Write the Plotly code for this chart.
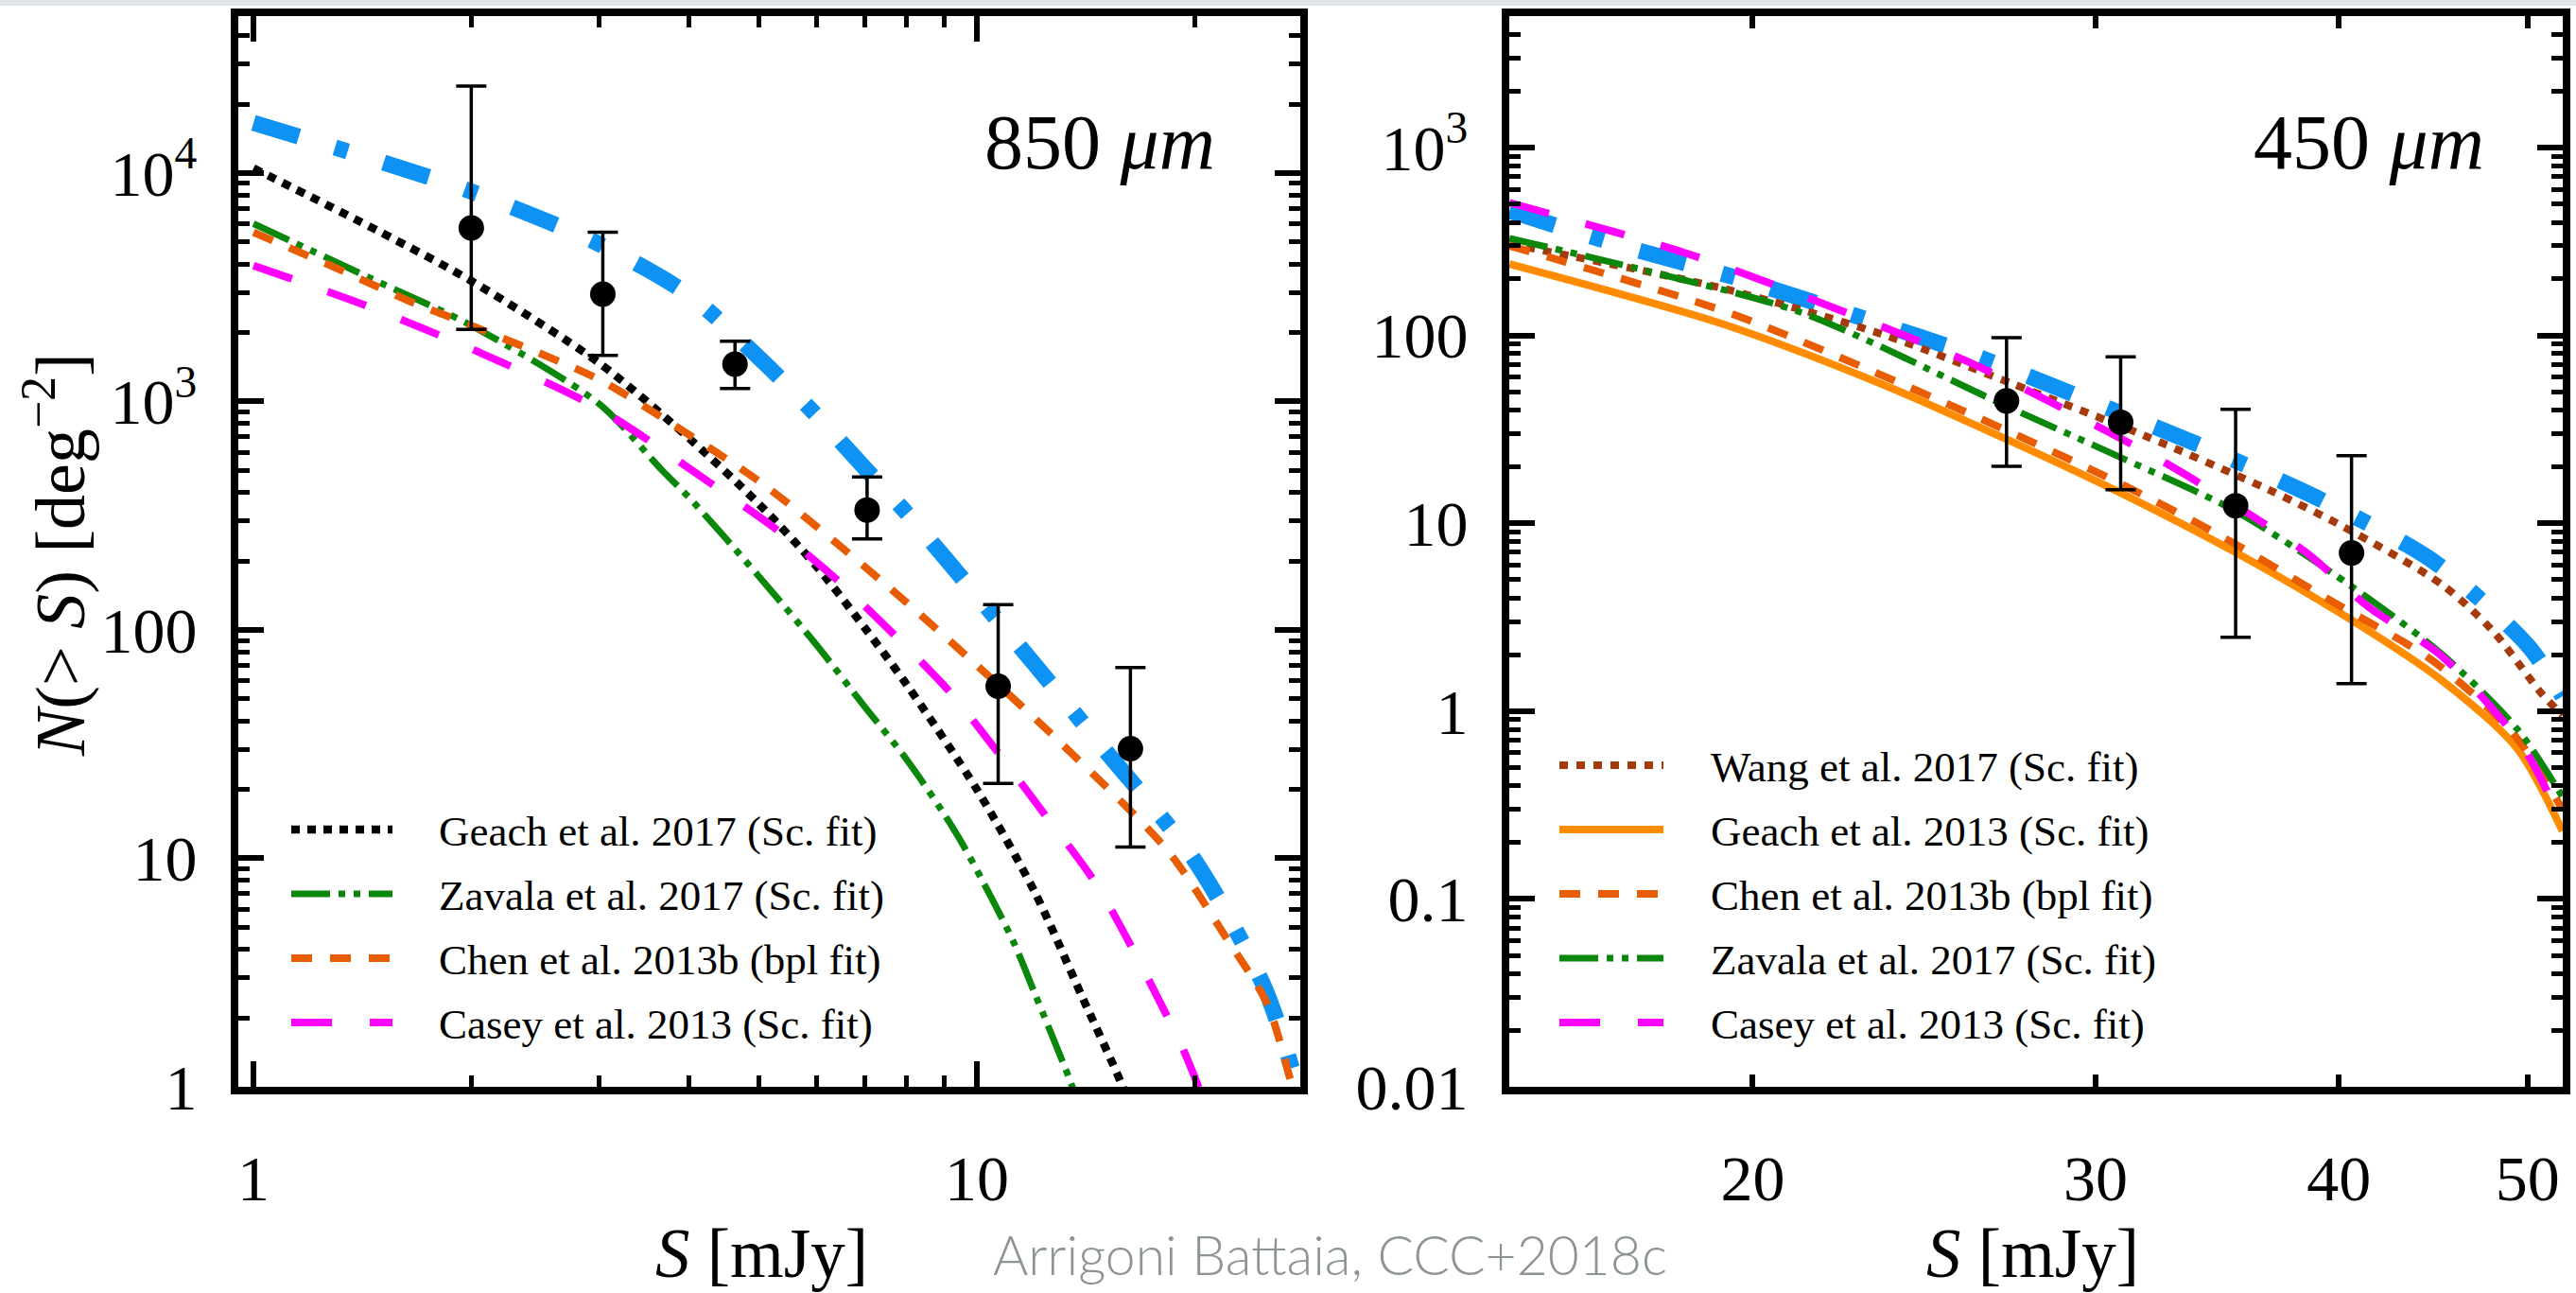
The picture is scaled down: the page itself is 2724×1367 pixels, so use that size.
import plotly.graph_objects as go

W, H = 2724, 1367

# ---------------- 850 micron panel ----------------
s850_obs = [2.0, 3.04, 4.63, 7.05, 10.7, 16.3]
n850_obs = [5750, 2950, 1456, 335, 56.7, 30.2]
n850_hi = [24000, 5510, 1837, 467, 129, 68.4]
n850_lo = [2070, 1590, 1140, 250, 21.3, 11.2]

s850_model = [1, 1.5, 2, 3, 4, 5, 6, 7, 8, 10, 12, 15, 20, 25, 28]
n850_model = [16600, 11200, 8300, 4900, 2920, 1550, 870, 510, 324, 141, 71, 30, 9.8, 2.7, 0.9]

s850_geach17 = [1, 1.5, 2, 3, 4, 5, 6, 7, 8, 10, 12, 14, 15.8, 16.3]
n850_geach17 = [10500, 5500, 3370, 1480, 690, 355, 190, 102, 57.5, 20, 7.2, 2.45, 1.05, 0.8]

s850_zavala = [1, 1.5, 2, 3, 3.67, 4, 5, 6, 7, 8, 9.4, 11.2, 12, 13.4, 13.8]
n850_zavala = [6000, 3300, 2150, 980, 500, 380, 171, 86, 46, 27, 12.6, 4.4, 2.6, 1.1, 0.85]

s850_chen = [1, 1.33, 1.66, 2, 3, 3.67, 5.07, 7.48, 9.9, 13.2, 18.4, 22, 25.2, 27.3, 28]
n850_chen = [5500, 3720, 2710, 2150, 1250, 850, 433, 158, 72, 31, 10.7, 4.6, 2.3, 1.0, 0.8]

s850_casey = [1, 1.13, 1.43, 2, 3, 4.31, 5.27, 6.4, 7.69, 9.15, 10.7, 12.4, 14.7, 19.2, 20.5]
n850_casey = [3930, 3440, 2630, 1700, 930, 433, 277, 166, 95, 54, 29, 15.6, 7.5, 1.5, 0.9]

# ---------------- 450 micron panel ----------------
s450_obs = [27.0, 30.9, 35.4, 40.6]
n450_obs = [44.8, 34.5, 12.4, 6.95]
n450_hi = [97.3, 77, 40.4, 22.9]
n450_lo = [20.1, 15.1, 2.47, 1.4]

s450_model = [15, 17.1, 19.7, 22.7, 26.1, 30, 34.4, 39.3, 44.8, 50, 52.1]
n450_model = [460, 302, 200, 125, 77, 43.6, 24.5, 13.1, 6.2, 2.24, 1.2]

s450_wang = [15, 19.3, 23.4, 27.1, 31.8, 36.8, 40.2, 45.2, 48, 50.8, 52.1]
n450_wang = [307, 178, 100, 56, 29.2, 15.1, 9.6, 4.7, 2.66, 1.25, 0.95]

s450_geach13 = [15, 19.3, 23.4, 27, 30.9, 35.4, 40.5, 45.2, 49.4, 52.1]
n450_geach13 = [240, 115, 54, 28, 14.5, 7.0, 3.1, 1.45, 0.63, 0.23]

s450_chen = [15, 15.7, 19.6, 25.2, 30.8, 34.9, 39.4, 44.7, 49.2, 52.1]
n450_chen = [300, 262, 128, 43, 16.5, 8.4, 4.0, 1.85, 0.75, 0.30]

s450_zavala = [15, 17.6, 21.2, 27, 30.9, 35.4, 40.5, 45.2, 49.4, 52.1]
n450_zavala = [329, 222, 132, 42, 22.4, 11.6, 4.7, 2.0, 0.8, 0.35]

s450_casey = [15, 18.5, 21.2, 25.6, 27.8, 32.7, 38.4, 41.4, 45.2, 49.7, 52.1]
n450_casey = [509, 273, 163, 75, 49.8, 20.5, 7.1, 3.6, 1.95, 0.65, 0.25]

# ---------------- styles ----------------
BLUE = "#0e93f5"
BLACK = "#000000"
GREEN = "#0b870b"
ORANGE_D = "#e85d04"
MAGENTA = "#ff00ff"
ORANGE = "#ff8c00"
BROWN = "#a53a0c"

STYLE = {
    "model": dict(color=BLUE, width=17, dash="50px,40px,14px,40px"),
    "geach17": dict(color=BLACK, width=8.5, dash="9px,8px"),
    "zavala": dict(color=GREEN, width=7, dash="41px,9px,7px,9px,7px,9px"),
    "chen": dict(color=ORANGE_D, width=8, dash="22px,19px"),
    "casey": dict(color=MAGENTA, width=8, dash="43px,40px"),
    "geach13": dict(color=ORANGE, width=8, dash="solid"),
    "wang": dict(color=BROWN, width=8, dash="9px,9px"),
}

SERIF = "Liberation Serif"

fig = go.Figure()


def add_curve(x, y, key, xa, ya, name):
    st = STYLE[key]
    fig.add_trace(go.Scatter(
        x=x, y=y, mode="lines", name=name, showlegend=False, hoverinfo="skip",
        line=dict(color=st["color"], width=st["width"], dash=st["dash"],
                  shape="spline", smoothing=0.8),
        xaxis=xa, yaxis=ya))


def add_points(x, y, hi, lo, xa, ya):
    fig.add_trace(go.Scatter(
        x=x, y=y, mode="markers", showlegend=False, hoverinfo="skip",
        marker=dict(size=27, color="black"),
        error_y=dict(type="data", symmetric=False,
                     array=[h - v for h, v in zip(hi, y)],
                     arrayminus=[v - l for v, l in zip(y, lo)],
                     color="black", thickness=3.5, width=16),
        xaxis=xa, yaxis=ya))


# left panel
add_curve(s850_model, n850_model, "model", "x", "y", "model")
add_curve(s850_geach17, n850_geach17, "geach17", "x", "y", "Geach et al. 2017 (Sc. fit)")
add_curve(s850_zavala, n850_zavala, "zavala", "x", "y", "Zavala et al. 2017 (Sc. fit)")
add_curve(s850_chen, n850_chen, "chen", "x", "y", "Chen et al. 2013b (bpl fit)")
add_curve(s850_casey, n850_casey, "casey", "x", "y", "Casey et al. 2013 (Sc. fit)")
add_points(s850_obs, n850_obs, n850_hi, n850_lo, "x", "y")

# right panel
add_curve(s450_model, n450_model, "model", "x2", "y2", "model")
add_curve(s450_wang, n450_wang, "wang", "x2", "y2", "Wang et al. 2017 (Sc. fit)")
add_curve(s450_geach13, n450_geach13, "geach13", "x2", "y2", "Geach et al. 2013 (Sc. fit)")
add_curve(s450_chen, n450_chen, "chen", "x2", "y2", "Chen et al. 2013b (bpl fit)")
add_curve(s450_zavala, n450_zavala, "zavala", "x2", "y2", "Zavala et al. 2017 (Sc. fit)")
add_curve(s450_casey, n450_casey, "casey", "x2", "y2", "Casey et al. 2013 (Sc. fit)")
add_points(s450_obs, n450_obs, n450_hi, n450_lo, "x2", "y2")


def px(x):
    return x / W


def py(y):
    return 1 - y / H


FRAME = dict(showline=True, linecolor="black", linewidth=8, mirror="ticks",
             showgrid=False, zeroline=False, ticks="inside", tickcolor="black",
             automargin=False,
             tickfont=dict(family=SERIF, size=68, color="black"))

decade_minor = [m * 10 ** k for k in range(-3, 5) for m in range(2, 10)]

y_dom = [py(1149), py(17)]

fig.update_layout(
    width=W, height=H, margin=dict(l=0, r=0, t=0, b=0, autoexpand=False),
    paper_bgcolor="white", plot_bgcolor="white",
    xaxis=dict(FRAME, type="log", domain=[px(252), px(1375)], range=[-0.021, 1.447],
               anchor="y", tickvals=[1, 10], ticktext=["1", "10"],
               ticklen=27, tickwidth=6, ticklabelstandoff=30,
               minor=dict(tickvals=[2, 3, 4, 5, 6, 7, 8, 9, 20], ticks="inside",
                          ticklen=12, tickwidth=5, tickcolor="black")),
    yaxis=dict(FRAME, type="log", domain=y_dom, range=[0, 4.687], anchor="x",
               tickvals=[1, 10, 100, 1000, 10000],
               ticktext=["1", "10", "100", "10<sup>3</sup>", "10<sup>4</sup>"],
               ticklen=27, tickwidth=6, ticklabelstandoff=22,
               minor=dict(tickvals=decade_minor, ticks="inside",
                          ticklen=12, tickwidth=5, tickcolor="black")),
    xaxis2=dict(FRAME, type="log", domain=[px(1596), px(2710)], range=[1.176, 1.717],
                anchor="y2", tickvals=[20, 30, 40, 50], ticktext=["20", "30", "40", "50"],
                ticklen=13, tickwidth=6, ticklabelstandoff=30),
    yaxis2=dict(FRAME, type="log", domain=y_dom, range=[-2, 3.70], anchor="x2",
                tickvals=[0.01, 0.1, 1, 10, 100, 1000],
                ticktext=["0.01", "0.1", "1", "10", "100", "10<sup>3</sup>"],
                ticklen=27, tickwidth=6, ticklabelstandoff=22,
                minor=dict(tickvals=decade_minor, ticks="inside",
                           ticklen=12, tickwidth=5, tickcolor="black")),
)

shapes = [dict(type="rect", xref="paper", yref="paper", x0=0, x1=1,
               y0=py(6), y1=1, fillcolor="#dfe3e8", line=dict(width=0), layer="below")]
annotations = []

# legend keys drawn beside each panel
legend_left = [("geach17", "Geach et al. 2017 (Sc. fit)"),
               ("zavala", "Zavala et al. 2017 (Sc. fit)"),
               ("chen", "Chen et al. 2013b (bpl fit)"),
               ("casey", "Casey et al. 2013 (Sc. fit)")]
legend_right = [("wang", "Wang et al. 2017 (Sc. fit)"),
                ("geach13", "Geach et al. 2013 (Sc. fit)"),
                ("chen", "Chen et al. 2013b (bpl fit)"),
                ("zavala", "Zavala et al. 2017 (Sc. fit)"),
                ("casey", "Casey et al. 2013 (Sc. fit)")]


def add_legend(entries, x0, x1, xt, y_first):
    for i, (key, label) in enumerate(entries):
        yy = y_first + 68 * i
        st = STYLE[key]
        shapes.append(dict(type="line", xref="paper", yref="paper",
                           x0=px(x0), x1=px(x1), y0=py(yy), y1=py(yy),
                           line=dict(color=st["color"], width=st["width"], dash=st["dash"])))
        annotations.append(dict(xref="paper", yref="paper", x=px(xt), y=py(yy + 2),
                                xanchor="left", yanchor="middle", showarrow=False,
                                text=label, font=dict(family=SERIF, size=45, color="black")))


add_legend(legend_left, 308, 415, 462, 877)
add_legend(legend_right, 1649, 1759, 1807, 809)

# panel labels, axis titles, credit line
annotations += [
    dict(xref="paper", yref="paper", x=px(1163), y=py(150), text="850 <i>μm</i>",
         showarrow=False, xanchor="center", yanchor="middle",
         font=dict(family=SERIF, size=82, color="black")),
    dict(xref="paper", yref="paper", x=px(2505), y=py(150), text="450 <i>μm</i>",
         showarrow=False, xanchor="center", yanchor="middle",
         font=dict(family=SERIF, size=82, color="black")),
    dict(xref="paper", yref="paper", x=px(805), y=py(1325), text="<i>S</i> [mJy]",
         showarrow=False, xanchor="center", yanchor="middle",
         font=dict(family=SERIF, size=73, color="black")),
    dict(xref="paper", yref="paper", x=px(2149), y=py(1325), text="<i>S</i> [mJy]",
         showarrow=False, xanchor="center", yanchor="middle",
         font=dict(family=SERIF, size=73, color="black")),
    dict(xref="paper", yref="paper", x=px(58), y=py(587),
         text="<i>N</i>(&gt; <i>S</i>) [deg<sup>−2</sup>]", textangle=-90,
         showarrow=False, xanchor="center", yanchor="middle",
         font=dict(family=SERIF, size=74, color="black")),
    dict(xref="paper", yref="paper", x=px(1406), y=py(1326),
         text="Arrigoni Battaia, CCC+2018c",
         showarrow=False, xanchor="center", yanchor="middle",
         font=dict(family="Lato", size=57, color="#8c9593", weight=300)),
]

fig.update_layout(shapes=shapes, annotations=annotations)

fig.write_html("out.html")
